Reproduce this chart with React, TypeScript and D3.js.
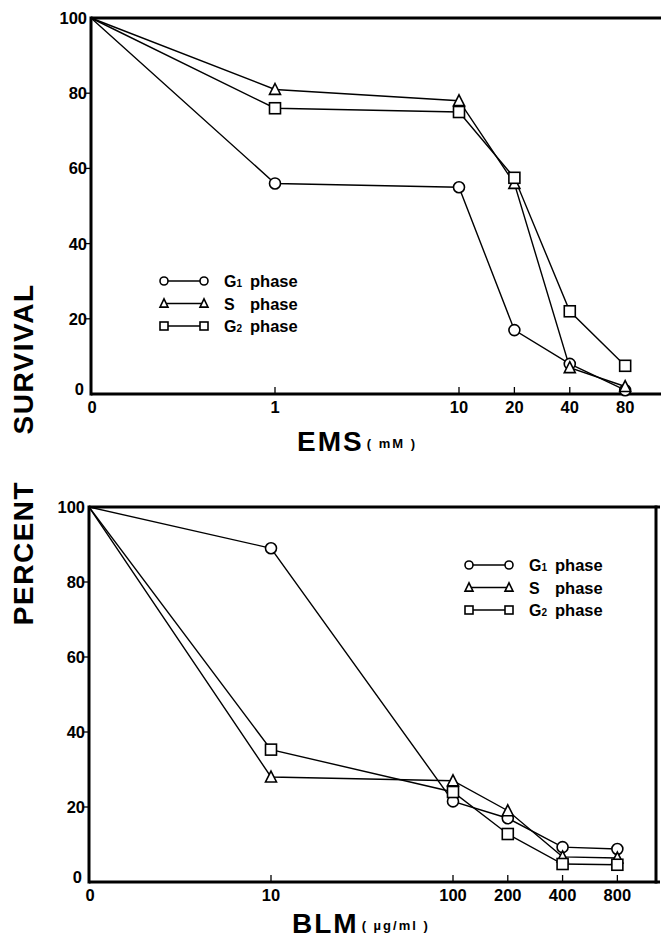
import React, { useEffect, useRef } from "react"
import * as d3 from "d3"

// EMS panel (top)
const emsDoses = [0, 1, 10, 20, 40, 80]
const emsTicks = [1, 10, 20, 40, 80]
const emsG1 = [100, 56, 55, 17, 8, 1]
const emsS = [100, 81, 78, 56, 7, 2]
const emsG2 = [100, 76, 75, 57.5, 22, 7.5]

// BLM panel (bottom)
const blmDoses = [0, 10, 100, 200, 400, 800]
const blmTicks = [10, 100, 200, 400, 800]
const blmG1 = [100, 89, 21.5, 17, 9.3, 8.8]
const blmS = [100, 28, 27, 19, 6.7, 6.4]
const blmG2 = [100, 35.3, 24, 12.8, 4.8, 4.6]

const yTicks = [0, 20, 40, 60, 80, 100]
const phases = [
  { key: "G1", name: "G", sub: "1", marker: "circle" },
  { key: "S", name: "S", sub: "", marker: "triangle" },
  { key: "G2", name: "G", sub: "2", marker: "square" },
]

const FONT = "'Liberation Sans', Arial, sans-serif"

const drawMarker = (g, type, x, y, size) => {
  if (type === "circle") {
    g.append("circle").attr("cx", x).attr("cy", y).attr("r", size / 2)
      .attr("fill", "#fff").attr("stroke", "#000").attr("stroke-width", 1.6)
  } else if (type === "square") {
    g.append("rect").attr("x", x - size / 2).attr("y", y - size / 2)
      .attr("width", size).attr("height", size)
      .attr("fill", "#fff").attr("stroke", "#000").attr("stroke-width", 1.6)
  } else {
    const h = size * 0.9
    g.append("path")
      .attr("d", `M${x},${y - h / 2 - 1}L${x + size / 2},${y + h / 2}L${x - size / 2},${y + h / 2}Z`)
      .attr("fill", "#fff").attr("stroke", "#000").attr("stroke-width", 1.6)
  }
}

const drawPanel = (svg, opts) => {
  const { doses, ticks, series, xLog, zeroAt, y, right, frameRight, legendX, legendY } = opts
  const xPos = v => (v === 0 ? xLog(zeroAt) : xLog(v))
  const x0 = xPos(0)
  const g = svg.append("g")

  // data lines
  series.forEach(s => {
    const line = d3.line().x((d, i) => xPos(doses[i])).y(d => y(d))
    g.append("path").attr("d", line(s.values)).attr("fill", "none")
      .attr("stroke", "#000").attr("stroke-width", 1.4)
  })

  // frame
  g.append("line").attr("x1", x0).attr("x2", right).attr("y1", y(100)).attr("y2", y(100))
    .attr("stroke", "#000").attr("stroke-width", 3)
  g.append("line").attr("x1", x0).attr("x2", right).attr("y1", y(0)).attr("y2", y(0))
    .attr("stroke", "#000").attr("stroke-width", 3)
  g.append("line").attr("x1", x0).attr("x2", x0).attr("y1", y(100) - 1.5).attr("y2", y(0) + 1.5)
    .attr("stroke", "#000").attr("stroke-width", 3)
  if (frameRight) {
    g.append("line").attr("x1", frameRight).attr("x2", frameRight)
      .attr("y1", y(100) - 1.5).attr("y2", y(0) + 1.5)
      .attr("stroke", "#000").attr("stroke-width", 3)
  }

  // y ticks
  yTicks.forEach(t => {
    if (t > 0 && t < 100) {
      g.append("line").attr("x1", x0 - 6).attr("x2", x0).attr("y1", y(t)).attr("y2", y(t))
        .attr("stroke", "#000").attr("stroke-width", 1.3)
    }
    g.append("text").attr("x", x0 - (t === 0 ? 7 : 4)).attr("y", y(t) + (t === 0 ? 1 : 6))
      .attr("text-anchor", "end").attr("font-family", FONT).attr("font-weight", "bold")
      .attr("font-size", 16.5).text(t)
  })

  // x ticks
  g.append("text").attr("x", x0 + 1).attr("y", y(0) + 19).attr("text-anchor", "middle")
    .attr("font-family", FONT).attr("font-weight", "bold").attr("font-size", 16.5).text(0)
  ticks.forEach(t => {
    g.append("line").attr("x1", xLog(t)).attr("x2", xLog(t)).attr("y1", y(0) - 7).attr("y2", y(0))
      .attr("stroke", "#000").attr("stroke-width", 1.3)
    g.append("text").attr("x", xLog(t)).attr("y", y(0) + 19).attr("text-anchor", "middle")
      .attr("font-family", FONT).attr("font-weight", "bold").attr("font-size", 16.5).text(t)
  })

  // markers
  series.forEach(s => {
    s.values.forEach((v, i) => {
      if (i === 0) return
      drawMarker(g, s.marker, xPos(doses[i]), y(v), 11)
    })
  })

  // legend
  series.forEach((s, i) => {
    const ly = legendY + i * 22.5
    g.append("line").attr("x1", legendX).attr("x2", legendX + 40).attr("y1", ly).attr("y2", ly)
      .attr("stroke", "#000").attr("stroke-width", 1.4)
    drawMarker(g, s.marker, legendX, ly, 8)
    drawMarker(g, s.marker, legendX + 40, ly, 8)
    const t = g.append("text").attr("x", legendX + 60).attr("y", ly + 6)
      .attr("font-family", FONT).attr("font-weight", "bold").attr("font-size", 16)
    t.append("tspan").text(s.name)
    if (s.sub) t.append("tspan").attr("font-size", 10).text(s.sub)
    g.append("text").attr("x", legendX + 86).attr("y", ly + 6)
      .attr("font-family", FONT).attr("font-weight", "bold").attr("font-size", 16.5).text("phase")
  })
}

const drawChart = wrapper => {
  d3.select(wrapper).selectAll("*").remove()
  const svg = d3.select(wrapper).append("svg")
    .attr("width", 661).attr("height", 940)
    .style("position", "absolute").style("left", 0).style("top", 0)
    .style("background", "#fff")

  const mk = (vals, i) => ({ values: vals, marker: phases[i].marker, name: phases[i].name, sub: phases[i].sub })

  drawPanel(svg, {
    doses: emsDoses,
    ticks: emsTicks,
    series: [mk(emsG1, 0), mk(emsS, 1), mk(emsG2, 2)],
    xLog: d3.scaleLog().domain([1, 10]).range([275, 459]),
    zeroAt: 0.1,
    y: d3.scaleLinear().domain([0, 100]).range([394, 18]),
    right: 661,
    frameRight: null,
    legendX: 164,
    legendY: 281,
  })

  drawPanel(svg, {
    doses: blmDoses,
    ticks: blmTicks,
    series: [mk(blmG1, 0), mk(blmS, 1), mk(blmG2, 2)],
    xLog: d3.scaleLog().domain([10, 100]).range([271, 453]),
    zeroAt: 1,
    y: d3.scaleLinear().domain([0, 100]).range([882, 507]),
    right: 660,
    frameRight: 656,
    legendX: 469,
    legendY: 565,
  })

  // axis titles
  const title = (x, y, big, small) => {
    const t = svg.append("text").attr("x", x).attr("y", y)
      .attr("font-family", FONT).attr("font-weight", "bold")
    t.append("tspan").attr("font-size", 28).attr("letter-spacing", 2).text(big)
    t.append("tspan").attr("font-size", 13).attr("dx", 3).attr("dy", -3)
      .attr("letter-spacing", 2).text(small)
  }
  title(297, 451, "EMS", "( mM )")
  title(292, 933, "BLM", "( µg/ml )")

  // y title
  svg.append("text").attr("transform", "translate(33,359) rotate(-90)")
    .attr("text-anchor", "middle").attr("font-family", FONT).attr("font-weight", "bold")
    .attr("font-size", 28).attr("letter-spacing", 1.5).text("SURVIVAL")
  svg.append("text").attr("transform", "translate(33,553) rotate(-90)")
    .attr("text-anchor", "middle").attr("font-family", FONT).attr("font-weight", "bold")
    .attr("font-size", 28).attr("letter-spacing", 1.5).text("PERCENT")
}

export default function App() {
  const chart = useRef(null)
  useEffect(() => {
    drawChart(chart.current)
  }, [])

  return <div ref={chart}></div>
}
